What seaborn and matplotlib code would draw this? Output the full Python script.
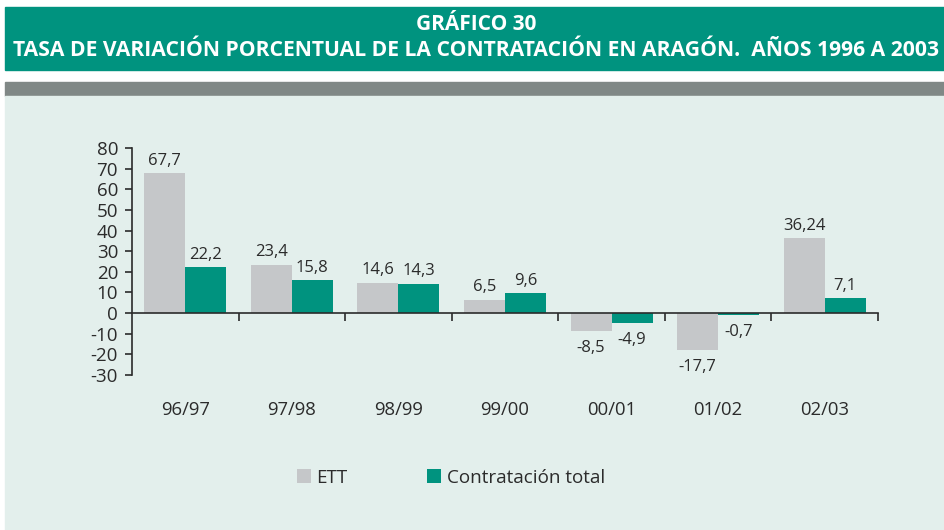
import matplotlib
matplotlib.use("Agg")
import matplotlib.pyplot as plt
from matplotlib import font_manager
from matplotlib.patches import Rectangle, Patch
import seaborn as sns
import pandas as pd

periods = ["96/97", "97/98", "98/99", "99/00", "00/01", "01/02", "02/03"]
ett = [67.7, 23.4, 14.6, 6.5, -8.5, -17.7, 36.24]
total = [22.2, 15.8, 14.3, 9.6, -4.9, -0.7, 7.1]
ett_labels = ["67,7", "23,4", "14,6", "6,5", "-8,5", "-17,7", "36,24"]
total_labels = ["22,2", "15,8", "14,3", "9,6", "-4,9", "-0,7", "7,1"]
series = ["ETT", "Contratación total"]
yticks = [80, 70, 60, 50, 40, 30, 20, 10, 0, -10, -20, -30]

sns.set_theme(style="white")
names = {f.name for f in font_manager.fontManager.ttflist}
body_font = "Open Sans" if "Open Sans" in names else "DejaVu Sans"
title_font = body_font
plt.rcParams["font.family"] = [body_font, "DejaVu Sans"]

TEAL = "#00937f"
GREY_BAR = "#c5c7c9"
PANEL = "#e3efec"
TEXT = "#2b2b2b"

df = pd.DataFrame({
    "period": periods * 2,
    "value": ett + total,
    "series": [series[0]] * len(periods) + [series[1]] * len(periods),
})

fig = plt.figure(figsize=(9.44, 5.30), dpi=100)
fig.patch.set_facecolor("white")
W, H = 944, 530
# background bands
fig.patches.append(Rectangle((5 / W, 1 - 70 / H), 1, 63 / H, transform=fig.transFigure,
                             color=TEAL, zorder=-5))
fig.patches.append(Rectangle((5 / W, 1 - 96 / H), 1, 14 / H, transform=fig.transFigure,
                             color="#808886", zorder=-5))
fig.patches.append(Rectangle((5 / W, 0), 1, 1 - 96 / H, transform=fig.transFigure,
                             color=PANEL, zorder=-5))
fig.text(476 / W, 1 - 24 / H, "GRÁFICO 30", ha="center", va="center", color="white",
         fontsize=15, fontweight="bold", family=title_font)
fig.text(476 / W, 1 - 51 / H, "TASA DE VARIACIÓN PORCENTUAL DE LA CONTRATACIÓN EN ARAGÓN.  AÑOS 1996 A 2003",
         ha="center", va="center", color="white", fontsize=15.2, fontweight="bold", family=title_font)

ax = fig.add_axes([132 / W, 1 - 375 / H, 746 / W, 227 / H])
ax.set_zorder(2)
ax.set_facecolor("none")
sns.barplot(data=df, x="period", y="value", hue="series", order=periods, hue_order=series,
            palette=[GREY_BAR, TEAL], width=0.77, saturation=1, ax=ax, legend=False,
            edgecolor="none", linewidth=0)
ax.set_xlim(-0.5, len(periods) - 0.5)
ax.set_ylim(-30, 80)
ax.set_yticks(yticks)
ax.set_yticklabels([str(v) for v in yticks], fontsize=13.5, color=TEXT)
ax.set_xlabel("")
ax.set_ylabel("")
for s in ["top", "right"]:
    ax.spines[s].set_visible(False)
ax.spines["left"].set_color(TEXT)
ax.spines["left"].set_linewidth(1.2)
ax.spines["bottom"].set_position(("data", 0))
ax.spines["bottom"].set_color(TEXT)
ax.spines["bottom"].set_linewidth(1.2)
ax.set_xticks([i + 0.5 for i in range(len(periods))])
ax.set_xticklabels([])
ax.tick_params(axis="x", direction="out", length=6, width=1.2, color=TEXT, bottom=True)
ax.tick_params(axis="y", direction="out", length=5, width=1.2, color=TEXT, left=True, pad=5)

# category labels below the plot
for i, p in enumerate(periods):
    ax.text(i, -47, p, ha="center", va="center", fontsize=13.3, color=TEXT, clip_on=False)

# value labels
for cont, labels in zip(ax.containers, [ett_labels, total_labels]):
    for bar, lab in zip(cont, labels):
        h = bar.get_height()
        x = bar.get_x() + bar.get_width() / 2
        if h >= 0:
            ax.text(x, h + 2.3, lab, ha="center", va="bottom", fontsize=12, color=TEXT)
        else:
            ax.text(x, h - 4.5, lab, ha="center", va="top", fontsize=12, color=TEXT)

handles = [Patch(facecolor=GREY_BAR, edgecolor="none"), Patch(facecolor=TEAL, edgecolor="none")]
leg = fig.legend(handles, series, loc="center", bbox_to_anchor=(451 / W, 1 - 478 / H), ncol=2,
                 frameon=False, fontsize=13.6, handlelength=0.75, handleheight=0.75,
                 handletextpad=0.3, columnspacing=4.2)
for t in leg.get_texts():
    t.set_color(TEXT)

fig.savefig("out.png", dpi=100)
